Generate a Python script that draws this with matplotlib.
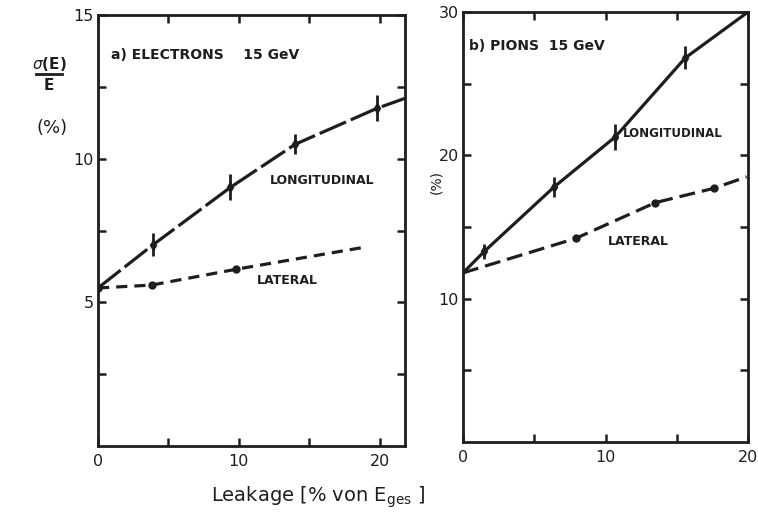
import matplotlib
matplotlib.use("Agg")
import matplotlib.pyplot as plt
from matplotlib.lines import Line2D

# ---- data -------------------------------------------------------------
# (a) electrons, 15 GeV
el_long_x = [0.0, 3.9, 9.4, 14.0, 19.8, 21.8]
el_long_y = [5.5, 7.0, 9.0, 10.5, 11.75, 12.1]
el_long_err = [0.0, 0.4, 0.45, 0.35, 0.45, 0.0]
el_lat_x = [0.0, 3.8, 9.8, 18.7]
el_lat_y = [5.5, 5.6, 6.15, 6.9]

# (b) pions, 15 GeV
pi_long_x = [0.0, 1.5, 6.4, 10.7, 15.6, 20.0]
pi_long_y = [11.8, 13.3, 17.8, 21.3, 26.8, 30.0]
pi_long_err = [0.0, 0.5, 0.7, 0.9, 0.8, 0.0]
pi_lat_x = [0.0, 7.9, 13.5, 17.6, 19.9]
pi_lat_y = [11.8, 14.2, 16.7, 17.7, 18.5]

ink = "#1e1e1e"
lw = 2.3

fig = plt.figure(figsize=(7.58, 5.26), dpi=100)
axL = fig.add_axes([98 / 758, 1 - 446 / 526, (405 - 98) / 758, (446 - 15) / 526])
axR = fig.add_axes([463 / 758, 1 - 442 / 526, (748 - 463) / 758, (442 - 12) / 526])


def style(ax, xlim, ylim, xmajor, xminor, ymajor, yminor):
    ax.set_xlim(*xlim)
    ax.set_ylim(*ylim)
    ax.set_xticks(xminor, minor=True)
    ax.set_yticks(yminor, minor=True)
    ax.set_xticks(xmajor)
    ax.set_yticks(ymajor)
    for s in ax.spines.values():
        s.set_linewidth(2.0)
        s.set_color(ink)
    ax.tick_params(which="both", direction="in", top=True, right=True,
                   length=6, width=1.8, color=ink, labelsize=11.5,
                   labelcolor=ink, pad=6)


style(axL, (0, 21.8), (0, 15), [0, 10, 20], [5, 15], [5, 10, 15], [2.5, 7.5, 12.5])
style(axR, (0, 20), (0, 30), [0, 10, 20], [5, 15], [10, 20, 30], [5, 15, 25])
axL.tick_params(axis="y", which="major", pad=3)
axR.tick_params(axis="y", which="major", pad=3)

# electrons
axL.plot(el_long_x, el_long_y, color=ink, lw=lw, dashes=(9, 1.6))
axL.errorbar(el_long_x[1:-1], el_long_y[1:-1], yerr=el_long_err[1:-1], fmt="d",
             ms=5, color=ink, ecolor=ink, elinewidth=2, capsize=0)
axL.plot(el_lat_x, el_lat_y, color=ink, lw=lw, dashes=(3.5, 2.2))
axL.plot(el_lat_x[:-1], el_lat_y[:-1], "o", ms=5, color=ink)

lbl = dict(color=ink, va="center", fontweight="bold")
axL.text(0.95, 13.6, "a) ELECTRONS    15 GeV", fontsize=10, **lbl)
axL.text(12.2, 9.25, "LONGITUDINAL", fontsize=9, **lbl)
axL.text(11.3, 5.75, "LATERAL", fontsize=9, **lbl)

# pions
axR.plot(pi_long_x, pi_long_y, color=ink, lw=lw)
axR.errorbar(pi_long_x[1:-1], pi_long_y[1:-1], yerr=pi_long_err[1:-1], fmt="d",
             ms=5, color=ink, ecolor=ink, elinewidth=2, capsize=0)
axR.plot(pi_lat_x, pi_lat_y, color=ink, lw=lw, dashes=(5, 2.2))
axR.plot(pi_lat_x[1:-1], pi_lat_y[1:-1], "o", ms=5, color=ink)

axR.text(0.4, 27.6, "b) PIONS  15 GeV", fontsize=10, **lbl)
axR.text(11.2, 21.5, "LONGITUDINAL", fontsize=8.5, **lbl)
axR.text(10.2, 14.0, "LATERAL", fontsize=9, **lbl)

# axis annotations: sigma(E)/E as a stacked fraction
fig.text(49 / 758, 1 - 64 / 526, r"$\sigma$(E)", fontsize=11, color=ink,
         ha="center", va="center", fontweight="bold")
fig.add_artist(Line2D([36 / 758, 62 / 758], [1 - 74 / 526, 1 - 74 / 526],
                      color=ink, lw=2))
fig.text(49 / 758, 1 - 85 / 526, "E", fontsize=11, color=ink, ha="center",
         va="center", fontweight="bold")
fig.text(52 / 758, 1 - 128 / 526, "(%)", fontsize=13, color=ink, ha="center", va="center")
fig.text(436 / 758, 1 - 182 / 526, "(%)", fontsize=10, color=ink, ha="center",
         va="center", rotation=90)
fig.text(318 / 758, 1 - 497 / 526, r"Leakage [% von E$_{\mathrm{ges}}$ ]", fontsize=14,
         color=ink, ha="center", va="center")

fig.savefig("out.png", dpi=100, facecolor="white")
